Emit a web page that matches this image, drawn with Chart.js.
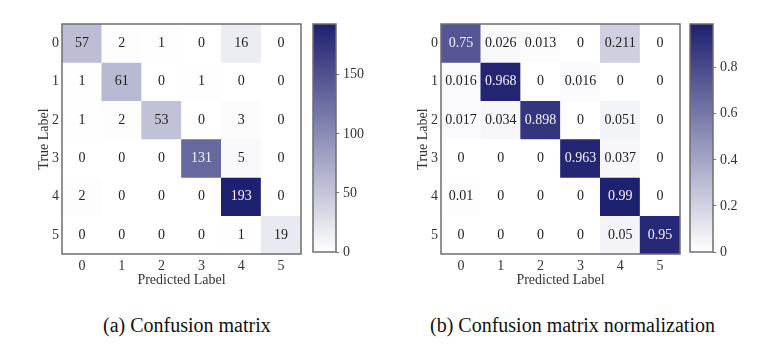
<!DOCTYPE html>
<html>
<head>
<meta charset="utf-8">
<script src="https://cdn.jsdelivr.net/npm/chart.js@4.4.0/dist/chart.umd.min.js"></script>
<style>
  body { margin: 0; background: #fff; width: 783px; height: 352px; overflow: hidden; position: relative; }
  .box { position: absolute; }
  .caption { position: absolute; top: 314px; font-family: "Liberation Serif", serif; font-size: 20px; color: #111; white-space: nowrap; }
</style>
</head>
<body>
<div class="box" style="left:0;top:0;width:310px;height:300px"><canvas id="cmA"></canvas></div>
<div class="box" style="left:305px;top:0;width:80px;height:300px"><canvas id="cbA"></canvas></div>
<div class="box" style="left:379px;top:0;width:310px;height:300px"><canvas id="cmB"></canvas></div>
<div class="box" style="left:682px;top:0;width:80px;height:300px"><canvas id="cbB"></canvas></div>
<div class="caption" style="left:103px">(a) Confusion matrix</div>
<div class="caption" style="left:430px">(b) Confusion matrix normalization</div>
<script>
const classLabels = ['0', '1', '2', '3', '4', '5'];

const countRows = [
    [57, 2, 1, 0, 16, 0],
    [1, 61, 0, 1, 0, 0],
    [1, 2, 53, 0, 3, 0],
    [0, 0, 0, 131, 5, 0],
    [2, 0, 0, 0, 193, 0],
    [0, 0, 0, 0, 1, 19]
];

const normRows = [
    [0.75, 0.026, 0.013, 0, 0.211, 0],
    [0.016, 0.968, 0, 0.016, 0, 0],
    [0.017, 0.034, 0.898, 0, 0.051, 0],
    [0, 0, 0, 0.963, 0.037, 0],
    [0.01, 0, 0, 0, 0.99, 0],
    [0, 0, 0, 0, 0.05, 0.95]
];

const countTicks = [0, 50, 100, 150];
const normTicks = [0, 0.2, 0.4, 0.6, 0.8];

const serif = '"Liberation Serif", "Times New Roman", serif';
const lowColor = [255, 255, 255];
const highColor = [30, 32, 112];

function mix(t) {
    t = Math.max(0, Math.min(1, t));
    const c = lowColor.map((v, k) => Math.round(v + (highColor[k] - v) * t));
    return `rgb(${c[0]},${c[1]},${c[2]})`;
}

// draws the frame around the plot area and the value in each cell
const cellText = {
    id: 'cellText',
    afterDatasetsDraw(chart, args, opts) {
        const ctx = chart.ctx;
        const xs = chart.scales.x;
        const ys = chart.scales.y;
        if (opts.rows) {
            ctx.save();
            ctx.font = '14px ' + serif;
            ctx.textAlign = 'center';
            ctx.textBaseline = 'middle';
            opts.rows.forEach((row, i) => {
                row.forEach((v, j) => {
                    ctx.fillStyle = v / opts.max > 0.5 ? '#f4f4f8' : '#222';
                    ctx.fillText(String(v), xs.getPixelForValue(j), ys.getPixelForValue(i));
                });
            });
            ctx.restore();
        }
        const a = chart.chartArea;
        ctx.save();
        ctx.strokeStyle = '#6e6e6e';
        ctx.lineWidth = 1.5;
        ctx.strokeRect(a.left, a.top, a.right - a.left, a.bottom - a.top);
        ctx.restore();
    }
};

function makeMatrix(id, rows, max) {
    const datasets = rows.map((row, i) => ({
        data: row.map(() => [i - 0.5, i + 0.5]),
        backgroundColor: row.map(v => mix(v / max)),
        borderWidth: 0,
        barPercentage: 1,
        categoryPercentage: 1,
        grouped: false
    }));
    new Chart(document.getElementById(id), {
        type: 'bar',
        data: { labels: classLabels, datasets: datasets },
        plugins: [cellText],
        options: {
            responsive: true,
            maintainAspectRatio: false,
            animation: false,
            layout: { padding: { top: 24, right: 9, left: 0, bottom: 0 } },
            plugins: {
                legend: { display: false },
                tooltip: { enabled: false },
                cellText: { rows: rows, max: max }
            },
            scales: {
                x: {
                    grid: { display: false, drawTicks: false },
                    border: { display: false },
                    ticks: { color: '#333', font: { family: serif, size: 14 }, padding: 4 },
                    title: { display: true, text: 'Predicted Label', color: '#333', font: { family: serif, size: 14 }, padding: { top: 0, bottom: 11 } },
                    afterFit(scale) { scale.height = 46; }
                },
                y: {
                    reverse: true,
                    min: -0.5,
                    max: 5.5,
                    grid: { display: false, drawTicks: false },
                    border: { display: false },
                    afterBuildTicks(scale) { scale.ticks = classLabels.map(v => ({ value: Number(v) })); },
                    ticks: { color: '#333', font: { family: serif, size: 14 }, padding: 3, callback: v => String(v) },
                    title: { display: true, text: 'True Label', color: '#333', font: { family: serif, size: 14 }, padding: { top: 36, bottom: 0 } },
                    afterFit(scale) { scale.width = 62; }
                }
            }
        }
    });
}

function makeBar(id, max, ticks, fmt) {
    new Chart(document.getElementById(id), {
        type: 'bar',
        data: {
            labels: [''],
            datasets: [{
                data: [[0, max]],
                borderWidth: 0,
                barPercentage: 1,
                categoryPercentage: 1,
                backgroundColor(context) {
                    const a = context.chart.chartArea;
                    if (!a) return mix(0.5);
                    const g = context.chart.ctx.createLinearGradient(0, a.bottom, 0, a.top);
                    for (let k = 0; k <= 10; k++) g.addColorStop(k / 10, mix(k / 10));
                    return g;
                }
            }]
        },
        plugins: [cellText],
        options: {
            responsive: true,
            maintainAspectRatio: false,
            animation: false,
            layout: { padding: { top: 24, left: 8, right: 0, bottom: 48 } },
            plugins: { legend: { display: false }, tooltip: { enabled: false } },
            scales: {
                x: { display: false },
                y: {
                    position: 'right',
                    min: 0,
                    max: max,
                    afterBuildTicks(scale) { scale.ticks = ticks.map(v => ({ value: v })); },
                    grid: { drawOnChartArea: false, drawTicks: true, tickLength: 3, color: '#777' },
                    border: { display: false },
                    ticks: { color: '#333', font: { family: serif, size: 14 }, padding: 4, callback: fmt },
                    afterFit(scale) { scale.width = 49; }
                }
            }
        }
    });
}

makeMatrix('cmA', countRows, 193);
makeBar('cbA', 193, countTicks, v => String(v));
makeMatrix('cmB', normRows, 0.99);
makeBar('cbB', 0.99, normTicks, v => String(Math.round(v * 10) / 10));
</script>
</body>
</html>
